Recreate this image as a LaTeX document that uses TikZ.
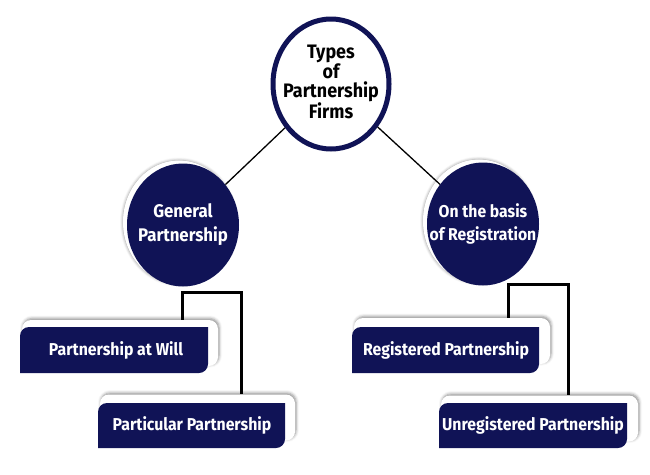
\documentclass[tikz,border=0pt]{standalone}
\usepackage{fontspec}
\setmainfont{Fira Sans}[FakeStretch=0.92]
\usetikzlibrary{shapes.geometric,shadows.blur}
\definecolor{navy}{RGB}{16,19,86}
\newcommand\navyshape[4]{% x1 y1 x2 y2 (y grows downward)
  \fill[navy] (#1,#4) -- (#1,#2+9) arc[start angle=180,end angle=90,radius=9pt]
    -- (#3,#2) -- (#3,#4-9) arc[start angle=0,end angle=-90,radius=9pt] -- cycle;}
\begin{document}
\begin{tikzpicture}[x=1pt,y=-1pt,
  topc/.style={ellipse, draw=navy, line width=5pt, fill=white, minimum width=116pt,
    minimum height=130pt, inner sep=0pt},
  toptext/.style={align=center, text=black, inner sep=0pt,
    font=\bfseries\fontsize{19.5}{19.2}\selectfont},
  circ/.style={ellipse, fill=navy, minimum width=112pt, minimum height=123pt, inner sep=0pt},
  circtext/.style={align=center, text=white, inner sep=0pt,
    font=\bfseries\fontsize{18.3}{24}\selectfont},
  ghost/.style={ellipse, fill=white, minimum width=112pt, minimum height=123pt, inner sep=0pt,
    blur shadow={shadow xshift=0pt, shadow yshift=0pt, shadow blur radius=3pt, shadow opacity=45}},
  backbox/.style={rectangle, rounded corners=9pt, fill=white, minimum height=46pt,
    blur shadow={shadow xshift=1pt, shadow yshift=1.5pt, shadow blur radius=3pt, shadow opacity=45}},
  lbl/.style={text=white, font=\bfseries\fontsize{17.2}{18}\selectfont, inner sep=0pt},
  thin/.style={draw=black, line width=1.3pt},
  conn/.style={draw=black, line width=3pt}]
\useasboundingbox (0,0) rectangle (650,474);

% top circle
\node[topc] (top) at (331,84) {};
\node[toptext] (toplbl) at (331,82) {Types\\of\\Partnership\\Firms};

% second level circles
\node[ghost] (gg) at (179,222) {};
\node[circ] (gen) at (183,225) {};
\node[circtext] (genlbl) at (gen) {General\\Partnership};
\node[ghost] (rg) at (479,221) {};
\node[circ] (reg) at (483,224) {};
\node[circtext, font=\bfseries\fontsize{17.1}{23}\selectfont] (reglbl) at (reg) {On the basis\\of Registration};

\draw[thin] (top) -- (gen);
\draw[thin] (top) -- (reg);

% back boxes
\node[backbox, minimum width=196pt] (b1s) at (120,343) {};
\node[backbox, minimum width=195pt] (b2s) at (197.5,417.5) {};
\node[backbox, minimum width=196pt] (b3s) at (452,341) {};
\node[backbox, minimum width=197pt] (b4s) at (539.5,418.5) {};

% navy boxes
\navyshape{20}{327}{208}{373}
\navyshape{98}{403}{285}{448}
\navyshape{352}{327}{539}{373}
\navyshape{439}{403}{627}{448}

\node[lbl] (b1) at (116,350) {Partnership at Will};
\node[lbl] (b2) at (192,425.5) {Particular Partnership};
\node[lbl] (b3) at (446,350) {Registered Partnership};
\node[lbl] (b4) at (533,425.5) {Unregistered Partnership};

% bracket connectors
\coordinate (l1) at (182,292);
\coordinate (l2) at (241,292);
\coordinate (r1) at (508,284);
\coordinate (r2) at (568,284);
\draw[conn] (b1s.north -| l1) -- (l1) -- (l2) -- (b2s.north -| l2);
\draw[conn] (b3s.north -| r1) -- (r1) -- (r2) -- (b4s.north -| r2);
\end{tikzpicture}
\end{document}
